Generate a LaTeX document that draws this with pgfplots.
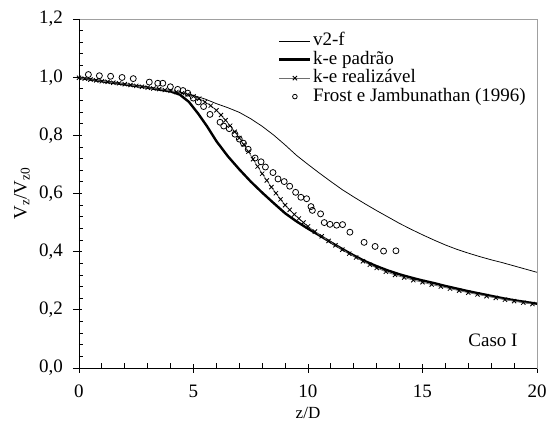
\documentclass[border=0pt]{standalone}
\usepackage{fontspec}
\setmainfont{Liberation Serif}
\usepackage{pgfplots}
\pgfplotsset{compat=1.18}
\definecolor{boxgray}{RGB}{160,160,160}
\definecolor{lgray}{RGB}{110,110,110}
\pgfplotsset{
  linelegend/.style={legend image code/.code={\draw[##1] (0pt,0pt) -- (31pt,0pt);}},
  marklinelegend/.style={legend image code/.code={\draw[##1, mark repeat=2, mark phase=2] plot coordinates {(0pt,0pt) (15.5pt,0pt) (31pt,0pt)};}},
  marklegend/.style={legend image code/.code={\draw[##1, mark size=2.3pt] plot coordinates {(15.5pt,0pt)};}},
}
\begin{document}
\fontsize{19}{21}\selectfont
\begin{tikzpicture}
\begin{axis}[
  name=ax,
  scale only axis, width=458pt, height=349pt,
  xmin=0, xmax=20, ymin=0, ymax=1.2,
  xtick={0,5,10,15,20}, ytick={0,0.2,0.4,0.6,0.8,1.0,1.2},
  minor x tick num=4, minor y tick num=4,
  xtick pos=bottom, ytick pos=left,
  tick align=inside,
  major tick length=9pt, minor tick length=4.5pt,
  major x tick style={yshift=-5pt},
  major y tick style={xshift=-6pt},
  tick style={black, line width=0.8pt},
  axis line style={boxgray, line width=0.9pt},
  /pgf/number format/assume math mode=true,
  yticklabel style={/pgf/number format/.cd, fixed, fixed zerofill, precision=1, use comma, /tikz/.cd, xshift=-9.5pt},
  xticklabel style={yshift=-15pt, inner sep=2pt},
  xlabel={z/D},
  xlabel style={at={(axis description cs:0.5,-0.1461)}, anchor=base, inner sep=0pt, font=\fontsize{17}{18}\selectfont},
  ylabel={V\textsubscript{z}/V\textsubscript{z0}},
  ylabel style={at={(axis description cs:-0.1245,0.5)}, anchor=center},
  legend style={draw=none, fill=none, inner sep=0pt, at={(0.4345,0.963)}, anchor=north west,
    nodes={inner sep=0.5pt, anchor=west, text height=13pt, text depth=4pt},
    row sep=0.5pt, column sep=1pt},
  legend cell align=left,
  clip=false,
  after end axis/.code={
    \draw[black, line width=0.9pt] (rel axis cs:0,1) -- (rel axis cs:0,0) -- (rel axis cs:1,0);
  },
]
% v2-f
\addplot[black, line width=0.75pt, no marks, linelegend] coordinates {
(0,0.997) (1,0.986) (2,0.976) (3,0.965) (4,0.953) (4.5,0.946) (5,0.937) (5.5,0.925)
(6,0.909) (6.5,0.895) (7,0.879) (7.5,0.857) (8,0.831) (8.5,0.801) (9,0.767) (9.5,0.731)
(10,0.700) (10.5,0.670) (11,0.641) (11.5,0.613) (12,0.588) (12.5,0.564) (13,0.541)
(13.5,0.519) (14,0.497) (14.5,0.477) (15,0.458) (15.5,0.440) (16,0.423) (16.5,0.408)
(17,0.395) (17.5,0.383) (18,0.372) (18.5,0.362) (19,0.351) (19.5,0.340) (20,0.329)
};
\addlegendentry{v2-f}
% k-e padrao
\addplot[black, line width=2.4pt, no marks, linelegend] coordinates {
(0,0.998) (1,0.986) (2,0.975) (3,0.964) (4,0.951) (4.4,0.940) (4.8,0.915) (5.2,0.875)
(5.6,0.830) (6.0,0.780) (6.5,0.728) (7,0.683) (7.5,0.641) (8,0.603) (8.5,0.567)
(9,0.532) (9.5,0.504) (10,0.479) (10.5,0.456) (11,0.432) (11.5,0.409) (12,0.387)
(12.5,0.367) (13,0.350) (13.5,0.335) (14,0.322) (14.5,0.311) (15,0.301) (15.5,0.292)
(16,0.282) (16.5,0.273) (17,0.264) (17.5,0.256) (18,0.248) (18.5,0.240) (19,0.233)
(19.5,0.227) (20,0.221)
};
\addlegendentry{k-e padrão}
% k-e realizavel
\addplot[lgray, line width=0.8pt, mark=x, mark size=3pt, mark options={black, line width=0.8pt}, marklinelegend] coordinates {
(0,0.998) (0.25,0.995) (0.5,0.992) (0.75,0.989) (1.0,0.986) (1.25,0.984) (1.5,0.981)
(1.75,0.979) (2.0,0.976) (2.25,0.973) (2.5,0.970) (2.75,0.967) (3.0,0.964) (3.25,0.961)
(3.5,0.959) (3.75,0.956) (4.0,0.953) (4.25,0.949) (4.5,0.945) (4.75,0.940) (5.0,0.934)
(5.25,0.926) (5.5,0.915) (5.75,0.902) (6.0,0.886) (6.2,0.870) (6.4,0.852) (6.6,0.833)
(6.8,0.812) (7.0,0.791) (7.2,0.768) (7.4,0.744) (7.6,0.718) (7.8,0.693) (8.0,0.668)
(8.2,0.645) (8.4,0.622) (8.6,0.601) (8.8,0.580) (9.0,0.560) (9.2,0.544) (9.4,0.528)
(9.6,0.514) (9.8,0.500) (10.0,0.487) (10.3,0.469) (10.6,0.453) (10.9,0.437)
(11.2,0.422) (11.5,0.407) (11.8,0.393) (12.1,0.380) (12.4,0.367) (12.7,0.355)
(13.0,0.344) (13.4,0.331) (13.8,0.320) (14.2,0.311) (14.6,0.302) (15.0,0.295)
(15.4,0.287) (15.8,0.280) (16.2,0.273) (16.6,0.266) (17.0,0.259) (17.4,0.253)
(17.8,0.247) (18.2,0.241) (18.6,0.235) (19.0,0.230) (19.4,0.225) (19.8,0.220)
};
\addlegendentry{k-e realizável}
% Frost e Jambunathan
\addplot[only marks, mark=o, mark size=3pt, black, line width=0.8pt, marklegend] coordinates {
(0.41,1.009) (0.89,1.005) (1.38,1.003) (1.88,0.999) (2.37,0.995) (3.07,0.983)
(3.44,0.979) (3.66,0.979) (3.99,0.967) (4.31,0.958) (4.54,0.954) (4.75,0.945)
(4.99,0.928) (5.21,0.915) (5.44,0.899) (5.72,0.872) (6.16,0.845) (6.32,0.832)
(6.56,0.823) (6.81,0.804) (7.00,0.787) (7.18,0.773) (7.39,0.752) (7.69,0.722)
(7.95,0.709) (8.14,0.691) (8.47,0.672) (8.69,0.650) (8.96,0.641) (9.20,0.625)
(9.46,0.604) (9.69,0.587) (9.94,0.582) (10.13,0.555) (10.19,0.542) (10.55,0.530)
(10.71,0.500) (10.96,0.494) (11.25,0.491) (11.51,0.493) (11.83,0.467) (12.45,0.432)
(12.93,0.418) (13.30,0.402) (13.84,0.403)
};
\addlegendentry{Frost e Jambunathan (1996)}
\node[anchor=center] at (axis cs:18.08,0.096) {Caso I};
\end{axis}
\pgfresetboundingbox
\useasboundingbox ([xshift=-79pt,yshift=-55pt]ax.south west) rectangle ([xshift=18pt,yshift=19pt]ax.north east);
\end{tikzpicture}
\end{document}
